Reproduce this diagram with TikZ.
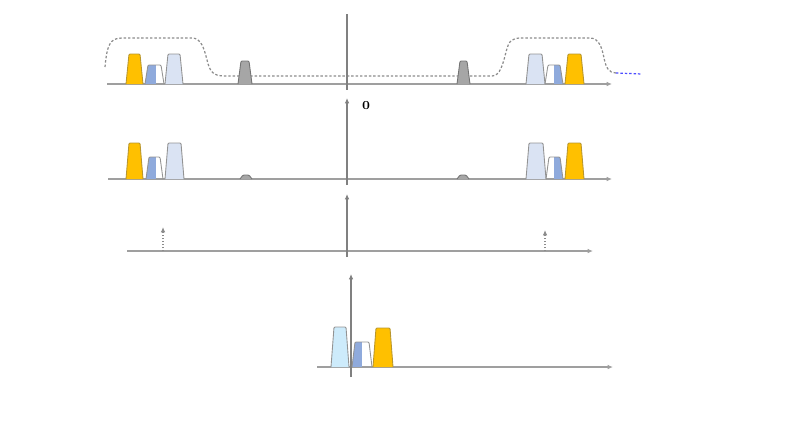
\documentclass[tikz,border=0pt]{standalone}
\usetikzlibrary{arrows.meta}
\definecolor{amarillo}{HTML}{FFC000}
\definecolor{bordeam}{HTML}{B8962E}
\definecolor{celeste}{HTML}{DAE3F3}
\definecolor{cian}{HTML}{CDEBFB}
\definecolor{azul}{HTML}{8FAADC}
\definecolor{gris}{HTML}{A6A6A6}
% pulso trapezoidal: x izq, x der, y arriba, y base, estilo
\newcommand{\pulso}[5]{%
  \filldraw[#5] (#1,#4) -- (#1+3,#3) -- (#2-3,#3) -- (#2,#4);}
% banda mitad azul: x izq, x der, y arriba, y base, azul desde, azul hasta
\newcommand{\banda}[6]{%
  \begin{scope}
    \clip (#1,#4) -- (#1+3,#3) -- (#2-3,#3) -- (#2,#4) -- cycle;
    \fill[azul] (#5,#3) rectangle (#6,#4);
  \end{scope}
  \draw[borde] (#1,#4) -- (#1+3,#3) -- (#2-3,#3) -- (#2,#4);}
\begin{document}
\begin{tikzpicture}[x=0.02cm,y=-0.02cm,
    punta/.style={-{Latex[length=3pt,width=2.6pt]}},
    eje/.style={draw=gray!75, line width=0.9pt, punta},
    ejev/.style={draw=gray, line width=0.7pt},
    borde/.style={draw=gray!85, line width=0.5pt, rounded corners=0.6pt},
    am/.style={borde, fill=amarillo, draw=bordeam},
    cel/.style={borde, fill=celeste},
    cia/.style={borde, fill=cian},
    gr/.style={borde, fill=gris, draw=gray!90!black},
    filtro/.style={draw=gray!90, line width=0.7pt, dash pattern=on 1.4pt off 1.1pt},
    delta/.style={draw=gray!90, densely dotted, line width=0.7pt, punta}]
  \useasboundingbox (0,0) rectangle (800,424);

  % Espectro recibido con el filtro
  \draw[filtro] (105,67) .. controls (107,45) and (110,38) .. (122,38) -- (192,38)
    .. controls (201,38) and (204,48) .. (207,60) .. controls (210,72) and (213,76) .. (225,76)
    -- (492,76) .. controls (500,76) and (503,64) .. (506,52)
    .. controls (509,40) and (512,38) .. (522,38) -- (590,38)
    .. controls (599,38) and (602,48) .. (604,58) .. controls (606,68) and (609,73) .. (616,73);
  \draw[filtro, draw=blue!70] (616,73) -- (642,74);
  \draw[eje, line width=1.1pt] (107,84) -- (612,84);
  \draw[ejev] (347,14) -- (347,90);
  \pulso{126}{143}{54}{84}{am}
  \banda{145}{164}{65}{84}{145}{156}
  \pulso{165}{183}{54}{84}{cel}
  \pulso{238}{252}{61}{84}{gr}
  \pulso{457}{470}{61}{84}{gr}
  \pulso{526}{545}{54}{84}{cel}
  \banda{545}{563}{65}{84}{554}{563}
  \pulso{565}{584}{54}{84}{am}

  % Espectro filtrado
  \draw[eje] (108,179) -- (612,179);
  \draw[ejev, punta] (347,185) -- (347,98);
  \node[font=\scriptsize\bfseries] (cero) at (366,106) {0};
  \pulso{126}{143}{143}{179}{am}
  \banda{146}{163}{157}{179}{146}{156}
  \pulso{165}{184}{143}{179}{cel}
  \pulso{240}{252}{175}{179}{gr}
  \pulso{457}{469}{175}{179}{gr}
  \pulso{526}{546}{143}{179}{cel}
  \banda{546}{563}{157}{179}{554}{563}
  \pulso{565}{584}{143}{179}{am}

  % Oscilador local
  \draw[eje] (127,251) -- (593,251);
  \draw[ejev, punta] (347,257) -- (347,194);
  \draw[delta] (163,251) -- (163,227);
  \draw[delta] (545,251) -- (545,230);

  % Espectro en banda base
  \draw[eje] (317,367) -- (613,367);
  \draw[ejev, punta] (351,377) -- (351,274);
  \pulso{331}{349}{327}{367}{cia}
  \banda{352}{372}{342}{367}{352}{362}
  \pulso{373}{393}{328}{367}{am}
\end{tikzpicture}
\end{document}
